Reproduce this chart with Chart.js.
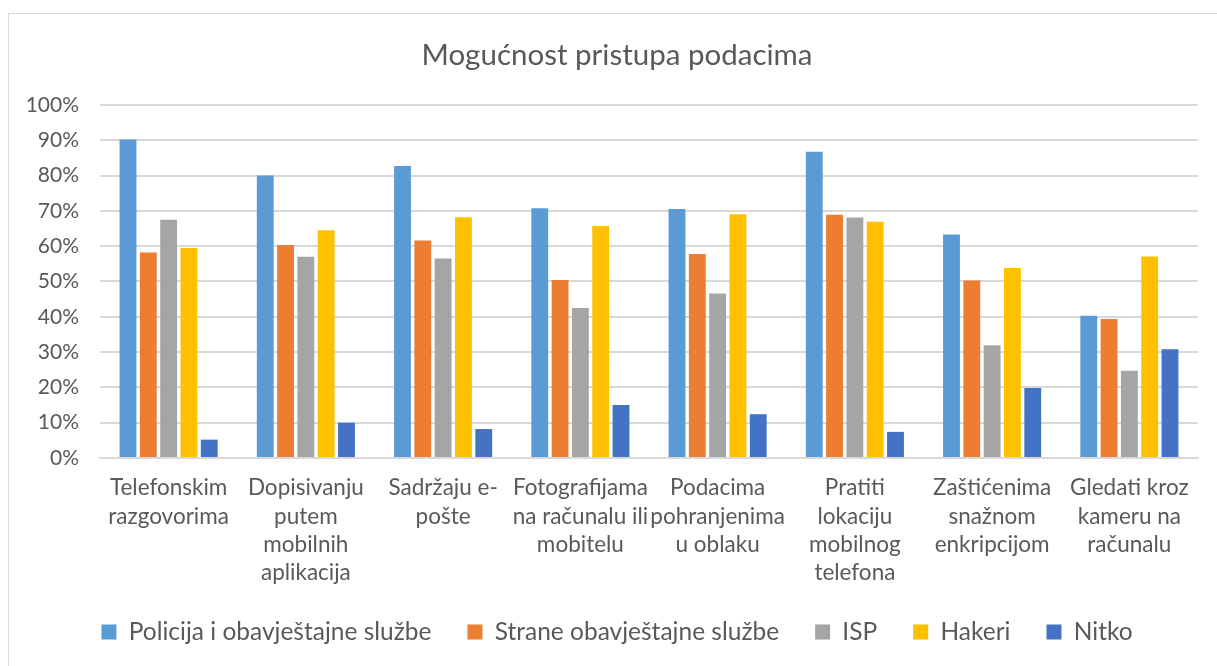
<!DOCTYPE html>
<html>
<head>
<meta charset="utf-8">
<script src="https://cdn.jsdelivr.net/npm/chart.js@4.4.1/dist/chart.umd.min.js"></script>
<style>
  body { margin: 0; background: #fff; }
  #frame { position: absolute; left: 8px; top: 13px; width: 1300px; height: 700px; border: 1px solid #d9d9d9; }
  #wrap { position: absolute; left: 0; top: 0; width: 1217px; height: 666px; }
</style>
</head>
<body>
<div id="frame"></div>
<div id="wrap"><canvas id="myChart"></canvas></div>
<script>
// kategorije (vise redaka kao u originalu)
var categories = [
	["Telefonskim", "razgovorima"],
	["Dopisivanju", "putem", "mobilnih", "aplikacija"],
	["Sadržaju e-", "pošte"],
	["Fotografijama", "na računalu ili", "mobitelu"],
	["Podacima", "pohranjenima", "u oblaku"],
	["Pratiti", "lokaciju", "mobilnog", "telefona"],
	["Zaštićenima", "snažnom", "enkripcijom"],
	["Gledati kroz", "kameru na", "računalu"]
];

var seriesNames = ["Policija i obavještajne službe", "Strane obavještajne službe", "ISP", "Hakeri", "Nitko"];

var policija = [90.2, 80.0, 82.7, 70.7, 70.5, 86.7, 63.3, 40.3];
var strane   = [58.2, 60.3, 61.6, 50.4, 57.8, 68.9, 50.3, 39.4];
var isp      = [67.5, 57.0, 56.5, 42.5, 46.6, 68.1, 31.9, 24.7];
var hakeri   = [59.5, 64.5, 68.2, 65.7, 69.0, 66.9, 53.8, 57.1];
var nitko    = [5.2, 10.0, 8.2, 15.0, 12.4, 7.4, 19.8, 30.8];

var yTicks = [0, 10, 20, 30, 40, 50, 60, 70, 80, 90, 100];

var colors = ["#5B9BD5", "#ED7D31", "#A5A5A5", "#FFC000", "#4472C4"];
var textColor = "#595959";
var fontFamily = "Lato, 'Open Sans', sans-serif";

// osi se inace rezu na vlastitom okviru, pa im prosirimo rubove
var labelClipFix = {
	id: 'labelClipFix',
	afterLayout: function(chart) {
		chart.scales.x.bottom = chart.height;
		chart.scales.y.left = 0;
	}
};

function createChart() {
	var ctx = document.getElementById('myChart').getContext('2d');
	var values = [policija, strane, isp, hakeri, nitko];
	var datasets = seriesNames.map(function(name, i) {
		return {
			label: name,
			data: values[i],
			backgroundColor: colors[i],
			borderWidth: 0,
			barPercentage: 0.83,
			categoryPercentage: 0.74
		};
	});

	new Chart(ctx, {
		type: 'bar',
		data: { labels: categories, datasets: datasets },
		plugins: [labelClipFix],
		options: {
			responsive: true,
			maintainAspectRatio: false,
			animation: false,
			layout: { padding: { left: 36, right: 19, top: 0, bottom: 11.75 } },
			plugins: {
				title: {
					display: true,
					text: "Mogućnost pristupa podacima",
					color: textColor,
					font: { family: fontFamily, size: 29.5, weight: 'normal' },
					padding: { top: 37.5, bottom: 32 }
				},
				legend: {
					position: 'bottom',
					labels: {
						color: textColor,
						font: { family: fontFamily, size: 24.5 },
						boxWidth: 15,
						boxHeight: 15,
						padding: 36
					}
				},
				tooltip: { enabled: false }
			},
			scales: {
				x: {
					grid: { display: false },
					border: { display: true, color: "#d9d9d9", width: 2 },
					ticks: {
						color: textColor,
						font: { family: fontFamily, size: 22.5, lineHeight: 1.26 },
						maxRotation: 0,
						autoSkip: false,
						padding: 8
					},
					afterFit: function(s) { s.height = 125.75; }
				},
				y: {
					min: 0,
					max: 100,
					afterBuildTicks: function(s) {
						s.ticks = yTicks.map(function(v) { return { value: v }; });
					},
					grid: { color: "#d9d9d9", lineWidth: 2, drawTicks: false },
					border: { display: false },
					ticks: {
						color: textColor,
						font: { family: fontFamily, size: 21 },
						padding: 21,
						callback: function(v) { return v + "%"; }
					},
					afterFit: function(s) { s.width = 64; }
				}
			}
		}
	});
}

createChart();
</script>
</body>
</html>
